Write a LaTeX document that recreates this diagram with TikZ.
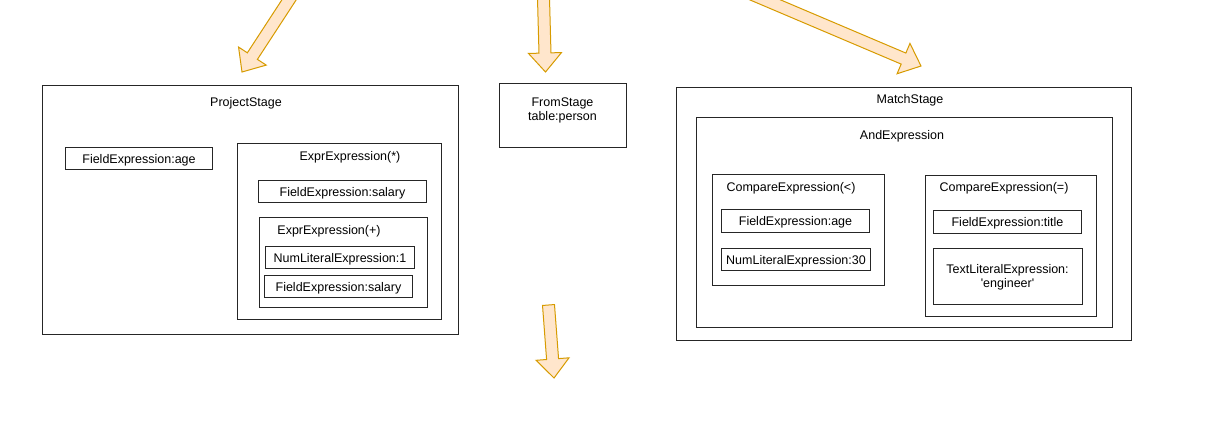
\documentclass[tikz,border=0pt]{standalone}
\usepackage{fontspec}
\newfontfamily\arialf{Liberation Sans}
\usetikzlibrary{calc}
\definecolor{arrfill}{HTML}{FFE6CC}
\definecolor{arrdraw}{HTML}{D79B00}
\newcommand\fatarrow[3]{%
  \coordinate (#1h) at ($(#3)!19pt!(#2)$);
  \draw[fatarr] ($(#2)!6pt!90:(#3)$) -- ($(#1h)!6pt!90:(#3)$) -- ($(#1h)!16.5pt!90:(#3)$) -- (#3)
    -- ($(#1h)!16.5pt!-90:(#3)$) -- ($(#1h)!6pt!-90:(#3)$) -- ($(#2)!6pt!-90:(#3)$) -- cycle;}
\begin{document}
\begin{tikzpicture}[x=1pt,y=-1pt,
  box/.style={draw=black!85, line width=1pt, inner sep=0pt, anchor=north west, font=\arialf\fontsize{12.5}{14}\selectfont, text height=9pt, text depth=0pt, align=center},
  lbl/.style={inner sep=0pt, font=\arialf\fontsize{12.5}{14}\selectfont, text height=9pt, text depth=0pt, align=center},
  fatarr/.style={draw=arrdraw, fill=arrfill, line width=1pt}]
\useasboundingbox (0,0) rectangle (1228,440);
\fill[white] (0,0) rectangle (1228,440);
\clip (0,0) rectangle (1228,440);

% ProjectStage
\node[box, minimum width=416pt, minimum height=249pt] (ps) at (42,85) {};
\node[lbl] (psl) at (246,102) {ProjectStage};
\node[box, minimum width=147pt, minimum height=22pt] (fa) at (65,147) {FieldExpression:age};
\node[box, minimum width=204pt, minimum height=176pt] (ex) at (237,143) {};
\node[lbl] (exl) at (350,156) {ExprExpression(*)};
\node[box, minimum width=168pt, minimum height=22pt] (fs1) at (258,180) {FieldExpression:salary};
\node[box, minimum width=168pt, minimum height=90pt] (ep) at (259,217) {};
\node[lbl] (epl) at (329,230) {ExprExpression(+)};
\node[box, minimum width=149pt, minimum height=22pt] (nl1) at (265,246) {NumLiteralExpression:1};
\node[box, minimum width=148pt, minimum height=22pt] (fs2) at (264,275) {FieldExpression:salary};

% FromStage
\node[box, minimum width=127pt, minimum height=64pt] (fr) at (499,83) {};
\node[lbl] (frl) at (562.5,115.5) {FromStage\\[-0.5pt]table:person};

% MatchStage
\node[box, minimum width=455pt, minimum height=253pt] (ms) at (676,87) {};
\node[lbl] (msl) at (910,98.5) {MatchStage};
\node[box, minimum width=416pt, minimum height=210pt] (ae) at (696,117) {};
\node[lbl] (ael) at (902,134.5) {AndExpression};
\node[box, minimum width=172pt, minimum height=111pt] (cl) at (712,174) {};
\node[lbl] (cll) at (791,186.5) {CompareExpression(<)};
\node[box, minimum width=148pt, minimum height=23pt] (fa2) at (721,209) {FieldExpression:age};
\node[box, minimum width=149pt, minimum height=22pt] (nl30) at (721,248) {NumLiteralExpression:30};
\node[box, minimum width=171pt, minimum height=141pt] (ce) at (925,175) {};
\node[lbl] (cel) at (1004,187) {CompareExpression(=)};
\node[box, minimum width=148pt, minimum height=23pt] (ft) at (933,210) {FieldExpression:title};
\node[box, minimum width=149pt, minimum height=56pt] (tl) at (933,248) {};
\node[lbl] (tll) at (1007.5,282.5) {TextLiteralExpression:\\[-0.5pt]'engineer'};

% arrows
\coordinate (a1t) at (302,-20);
\coordinate (a1p) at (242,72);
\coordinate (a2t) at (543,-20);
\coordinate (a2p) at (545.5,72);
\coordinate (a3t) at (716,-21);
\coordinate (a3p) at (921,66);
\coordinate (a4t) at (548.5,305);
\coordinate (a4p) at (554,378);
\fatarrow{aa}{a1t}{a1p}
\fatarrow{ab}{a2t}{a2p}
\fatarrow{ac}{a3t}{a3p}
\fatarrow{ad}{a4t}{a4p}
\end{tikzpicture}
\end{document}
